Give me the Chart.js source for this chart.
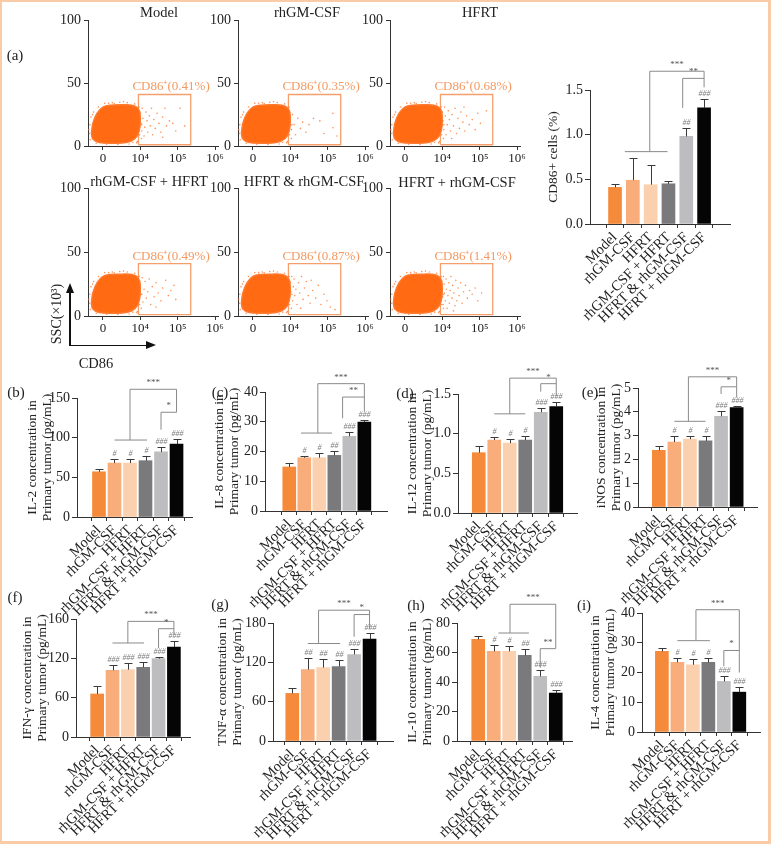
<!DOCTYPE html>
<html>
<head>
<meta charset="utf-8">
<script src="https://cdn.jsdelivr.net/npm/chart.js@4.4.0/dist/chart.umd.min.js"></script>
<style>
  html, body { margin: 0; padding: 0; background: #fff; }
  #fig { position: relative; width: 771px; height: 844px; overflow: hidden; font-family: 'Liberation Serif', serif; color: #222; }
  #fig canvas { position: absolute; }
  #frame { position: absolute; left: 0; top: 0; width: 771px; height: 844px; box-sizing: border-box;
           border-style: solid; border-color: #f9cba6; border-width: 2px 3px 3px 2px; pointer-events: none; }
  .txt { position: absolute; white-space: nowrap; transform: translate(-50%, -50%); line-height: 1; }
  .line { position: absolute; background: #111; }
  .head { position: absolute; width: 0; height: 0; }
</style>
</head>
<body>
<div id="fig">
  <div class="line" style="left:69px; top:292px; width:1.5px; height:54px;"></div>
  <div class="head" style="left:66px; top:283px; border-left:4px solid transparent; border-right:4px solid transparent; border-bottom:10px solid #111;"></div>
  <div class="line" style="left:69px; top:344.5px; width:78px; height:1.5px;"></div>
  <div class="head" style="left:146px; top:341px; border-top:4px solid transparent; border-bottom:4px solid transparent; border-left:10px solid #111;"></div>
  <div id="frame"></div>
</div>
<script>
// groups (same order in every panel)
const groups = ["Model", "rhGM-CSF", "HFRT", "rhGM-CSF + HFRT", "HFRT & rhGM-CSF", "HFRT + rhGM-CSF"];
const barColors = ["#f58a3a", "#f8ad7a", "#fbd0ae", "#7a7a7c", "#bdbdbf", "#050505"];

// flow cytometry panels
const flowTitles = ["Model", "rhGM-CSF", "HFRT", "rhGM-CSF + HFRT", "HFRT & rhGM-CSF", "HFRT + rhGM-CSF"];
const flowPercents = ["0.41%", "0.35%", "0.68%", "0.49%", "0.87%", "1.41%"];
const flowXTicks = [0, 1, 2, 3];
const flowXLabels = ["0", "10⁴", "10⁵", "10⁶"];
const flowYTicks = [0, 50, 100];
// main population outline (decades of CD86, SSC x10^3)
const cloudOutline = [[-0.31, 10], [-0.27, 18], [-0.16, 26], [0.0, 31], [0.2, 32.5], [0.5, 32.8], [0.8, 32.3], [0.96, 29],
  [1.0, 21], [0.97, 12], [0.86, 6], [0.62, 2.7], [0.25, 2.2], [-0.1, 2.8], [-0.27, 5.5], [-0.31, 10]];
const gateBox = [[0.95, 1], [2.35, 1], [2.35, 41], [0.95, 41], [0.95, 1]];
const edgeDots = [[-0.36, 10], [-0.35, 17], [-0.32, 23], [-0.25, 27], [-0.12, 31], [0.05, 34], [0.25, 34.5],
  [0.45, 34.8], [0.65, 34.5], [0.85, 33.5], [0.97, 31], [1.03, 6], [0.92, 3.5], [0.7, 1.6], [0.4, 1.2],
  [0.1, 1.4], [-0.18, 2.2], [-0.34, 5], [0.3, 33.8], [0.9, 2.5], [-0.38, 13], [0.15, 34], [0.55, 35.2],
  [0.99, 27], [1.04, 17], [0.98, 9], [0.8, 3], [-0.28, 25]];
const gateDots = [
  [[1.0, 26], [1.02, 18], [1.04, 12], [1.05, 30], [1.07, 22], [1.1, 8], [1.12, 15], [1.15, 27], [1.18, 20], [1.2, 11],
   [1.24, 24], [1.27, 16], [1.3, 30], [1.33, 9], [1.36, 21], [1.4, 14], [1.45, 26], [1.5, 18], [1.55, 11], [1.6, 23],
   [1.66, 30], [1.7, 16], [1.78, 20], [1.87, 18], [1.95, 12], [2.06, 30], [2.19, 16], [1.6, 7]],
  [[1.0, 20], [1.03, 13], [1.06, 25], [1.1, 17], [1.14, 9], [1.2, 22], [1.27, 14], [1.33, 19], [1.42, 11], [1.5, 17],
   [1.62, 22], [1.79, 20], [1.9, 10], [2.14, 26], [2.14, 14.5], [2.25, 8]],
  [[1.0, 27], [1.02, 20], [1.04, 13], [1.06, 31], [1.08, 24], [1.1, 9], [1.13, 17], [1.16, 28], [1.19, 21], [1.22, 12],
   [1.26, 25], [1.3, 16], [1.34, 30], [1.38, 10], [1.42, 22], [1.46, 14], [1.5, 27], [1.55, 19], [1.6, 12], [1.65, 24],
   [1.72, 17], [1.8, 21], [1.88, 13], [1.95, 26], [2.02, 18], [2.18, 28], [1.25, 6], [1.58, 31]],
  [[1.0, 25], [1.02, 17], [1.05, 30], [1.07, 11], [1.1, 21], [1.13, 27], [1.16, 14], [1.2, 19], [1.24, 29], [1.28, 9],
   [1.32, 23], [1.37, 15], [1.42, 26], [1.48, 18], [1.55, 12], [1.6, 22], [1.68, 28], [1.75, 16], [1.82, 20], [1.9, 24],
   [1.95, 13], [1.42, 7]],
  [[1.0, 26], [1.02, 19], [1.04, 31], [1.06, 12], [1.08, 23], [1.1, 29], [1.12, 16], [1.15, 21], [1.18, 9], [1.22, 26],
   [1.25, 18], [1.3, 31], [1.34, 13], [1.38, 22], [1.43, 27], [1.48, 16], [1.53, 10], [1.6, 20], [1.68, 14], [1.75, 24],
   [1.82, 9], [1.9, 17], [1.98, 12], [2.07, 7], [2.2, 5], [1.28, 6], [1.56, 28]],
  [[0.98, 28], [1.0, 22], [1.01, 15], [1.02, 9], [1.03, 31], [1.05, 25], [1.06, 18], [1.08, 12], [1.1, 29], [1.11, 21],
   [1.13, 6], [1.15, 16], [1.17, 26], [1.19, 10], [1.21, 20], [1.23, 31], [1.26, 14], [1.28, 24], [1.31, 18], [1.34, 8],
   [1.36, 28], [1.39, 12], [1.42, 22], [1.45, 16], [1.49, 26], [1.53, 10], [1.57, 19], [1.62, 24], [1.67, 14], [1.73, 20],
   [1.8, 17], [1.88, 22], [1.95, 12], [2.05, 18], [1.3, 4]]
];

// bar panels: mean and SD
const cd86Mean = [0.41, 0.49, 0.44, 0.45, 0.98, 1.30];
const cd86Sd = [0.04, 0.25, 0.22, 0.03, 0.10, 0.10];
const il2Mean = [57, 68, 68, 71, 82, 92];
const il2Sd = [3, 5, 5, 6, 6, 6];
const il8Mean = [14.8, 17.9, 17.9, 18.7, 25.1, 29.9];
const il8Sd = [1.3, 0.7, 1.6, 1.5, 1.5, 0.7];
const il12Mean = [0.76, 0.92, 0.88, 0.92, 1.27, 1.34];
const il12Sd = [0.09, 0.04, 0.05, 0.05, 0.05, 0.06];
const inosMean = [2.38, 2.73, 2.85, 2.78, 3.81, 4.18];
const inosSd = [0.17, 0.24, 0.12, 0.22, 0.21, 0.08];
const ifnMean = [65.6, 101.7, 102.7, 106.3, 119.5, 137.3];
const ifnSd = [11.7, 7.6, 10.2, 8.1, 2.5, 9.1];
const tnfMean = [72.6, 109, 112, 113.7, 132, 155.3];
const tnfSd = [7.6, 17, 13, 9.7, 9, 10.2];
const il10Mean = [68.9, 60.8, 60.8, 58.1, 43.8, 32.5];
const il10Sd = [2.3, 4.5, 3.8, 4.3, 4.6, 1.9];
const il4Mean = [27.1, 23.4, 22.6, 23.4, 17.0, 13.4];
const il4Sd = [1.3, 1.5, 2.0, 1.5, 1.7, 1.6];

// significance marks vs Model
const marksCd86 = ["", "", "", "", "##", "###"];
const marksIl2 = ["", "#", "#", "#", "###", "###"];
const marksIl8 = ["", "#", "#", "##", "###", "###"];
const marksIl12 = ["", "#", "#", "#", "###", "###"];
const marksInos = ["", "#", "#", "#", "###", "###"];
const marksIfn = ["", "###", "###", "###", "###", "###"];
const marksTnf = ["", "##", "##", "##", "###", "###"];
const marksIl10 = ["", "#", "#", "##", "###", "###"];
const marksIl4 = ["", "#", "#", "#", "###", "###"];

// y ticks
const ticksCd86 = [0, 0.5, 1.0, 1.5];
const ticksIl2 = [0, 50, 100, 150];
const ticksIl8 = [0, 10, 20, 30, 40];
const ticksIl12 = [0, 0.5, 1.0, 1.5];
const ticksInos = [0, 1, 2, 3, 4, 5];
const ticksIfn = [0, 60, 120, 180];
const ticksIfnLabels = ["0", "60", "120", "160"];
const ticksTnf = [0, 60, 120, 180];
const ticksIl10 = [0, 20, 40, 60, 80];
const ticksIl4 = [0, 10, 20, 30, 40];

const AXIS = "#333";
const SIG = "#8a8a8a";
Chart.defaults.font.family = "'Liberation Serif', serif";
const fig = document.getElementById("fig");

function addCanvas(left, top, w, h) {
  const c = document.createElement("canvas");
  c.width = w; c.height = h;
  c.style.left = left + "px"; c.style.top = top + "px";
  c.style.width = w + "px"; c.style.height = h + "px";
  fig.insertBefore(c, document.getElementById("frame"));
  return c;
}

function addText(text, x, y, size, rotate) {
  const d = document.createElement("div");
  d.className = "txt";
  d.textContent = text;
  d.style.left = x + "px"; d.style.top = y + "px"; d.style.fontSize = size + "px";
  if (rotate) d.style.transform = "translate(-50%,-50%) rotate(-90deg)";
  fig.insertBefore(d, document.getElementById("frame"));
}

// ---------- flow plots ----------
const flowAreas = [
  { l: 88, t: 19, r: 218, b: 146 }, { l: 238, t: 19, r: 368, b: 146 }, { l: 390, t: 19, r: 520, b: 146 },
  { l: 88, t: 187, r: 218, b: 316 }, { l: 238, t: 187, r: 368, b: 316 }, { l: 390, t: 187, r: 520, b: 316 }
];
const flowTitlePos = [[159, 12], [307, 12], [480, 12], [149, 181], [304, 181], [457, 182]];

function gateLabel(pct) {
  return {
    id: "gateLabel",
    afterDatasetsDraw(chart) {
      const { ctx, scales: { x, y } } = chart;
      ctx.save();
      ctx.fillStyle = "#f39a62";
      ctx.font = "13px 'Liberation Serif', serif";
      ctx.textAlign = "left";
      ctx.textBaseline = "bottom";
      ctx.fillText("CD86⁺(" + pct + ")", x.getPixelForValue(gateBox[0][0]) - 6, y.getPixelForValue(gateBox[2][1]) - 1);
      ctx.restore();
    }
  };
}

function flowChart(i) {
  const a = flowAreas[i];
  const left = a.l - 36, top = a.t - 10;
  const w = a.r - left + 10, h = a.b - top + 22;
  const pts = arr => arr.map(p => ({ x: p[0], y: p[1] }));
  new Chart(addCanvas(left, top, w, h), {
    type: "scatter",
    data: {
      datasets: [
        { type: "line", data: pts(cloudOutline), fill: "shape", backgroundColor: "#ff6a13", borderColor: "#ff7a2e",
          borderWidth: 1.5, pointRadius: 0, tension: 0.35 },
        { type: "scatter", data: pts(edgeDots.concat(gateDots[i])), pointRadius: 0.8,
          backgroundColor: "rgba(255,110,30,0.75)", borderWidth: 0 },
        { type: "line", data: pts(gateBox), fill: false, borderColor: "#f5a06c", borderWidth: 1.3, pointRadius: 0, tension: 0 }
      ]
    },
    options: {
      responsive: false, animation: false,
      layout: { padding: { left: 0, top: 10, right: 10, bottom: 0 } },
      plugins: { legend: { display: false }, tooltip: { enabled: false } },
      scales: {
        x: { type: "linear", min: -0.4, max: 3.08,
          afterFit: s => { s.height = 22; },
          afterBuildTicks: s => { s.ticks = flowXTicks.map(v => ({ value: v })); },
          ticks: { callback: (v, k) => flowXLabels[k], font: { size: 13 }, color: "#222", padding: 1, maxRotation: 0 },
          grid: { display: true, drawOnChartArea: false, tickLength: 4, color: AXIS }, border: { color: AXIS } },
        y: { min: 0, max: 100,
          afterFit: s => { s.width = 36; },
          afterBuildTicks: s => { s.ticks = flowYTicks.map(v => ({ value: v })); },
          ticks: { font: { size: 14 }, color: "#222", padding: 3 },
          grid: { display: true, drawOnChartArea: false, tickLength: 4, color: AXIS }, border: { color: AXIS } }
      }
    },
    plugins: [gateLabel(flowPercents[i])]
  });
  addText(flowTitles[i], flowTitlePos[i][0], flowTitlePos[i][1], 14.5);
}

// ---------- bar plots ----------
function barMarks(p) {
  return {
    id: "barMarks",
    afterDatasetsDraw(chart) {
      const { ctx, scales: { x, y } } = chart;
      const X = v => x.getPixelForValue(v), Y = v => y.getPixelForValue(v);
      ctx.save();
      ctx.lineWidth = 1;
      p.mean.forEach((m, i) => {
        const px = Math.round(X(i)) + 0.5;
        const y0 = Y(m), y1 = Math.round(Y(m + p.sd[i])) + 0.5;
        ctx.strokeStyle = "#3a3a3a";
        ctx.beginPath();
        ctx.moveTo(px, y0); ctx.lineTo(px, y1);
        ctx.moveTo(px - 4, y1); ctx.lineTo(px + 4, y1);
        ctx.stroke();
        if (p.marks[i]) {
          ctx.fillStyle = "#7a7a7a";
          ctx.font = "italic 8px 'Liberation Serif', serif";
          ctx.textAlign = "center";
          ctx.textBaseline = "bottom";
          ctx.fillText(p.marks[i], px, y1 - 2);
        }
      });
      const s = p.sig;
      ctx.strokeStyle = SIG;
      ctx.beginPath();
      ctx.moveTo(X(s.group[0]), Y(s.group[2])); ctx.lineTo(X(s.group[1]), Y(s.group[2]));
      ctx.moveTo(X(s.mid), Y(s.group[2])); ctx.lineTo(X(s.mid), Y(s.top));
      ctx.lineTo(X(s.right), Y(s.top)); ctx.lineTo(X(s.right), Y(s.rightLow));
      ctx.moveTo(X(s.left2), Y(s.low2)); ctx.lineTo(X(s.left2), Y(s.y2)); ctx.lineTo(X(s.right), Y(s.y2));
      ctx.stroke();
      ctx.fillStyle = "#555";
      ctx.font = "9px 'Liberation Serif', serif";
      ctx.textAlign = "center";
      ctx.textBaseline = "bottom";
      ctx.fillText(s.stars[0], X((s.mid + s.right) / 2), Y(s.top) - 2);
      ctx.fillText(s.stars[1], X((s.left2 + s.right) / 2), Y(s.y2) - 2);
      ctx.restore();
    }
  };
}

function barChart(p) {
  const a = p.area;
  const left = Math.round(p.titleX - 7.5), top = a.t - 50;
  const w = a.r - left + 12, h = a.b - top + 105;
  new Chart(addCanvas(left, top, w, h), {
    type: "bar",
    data: {
      datasets: [{ data: p.mean.map((v, i) => ({ x: i, y: v })), backgroundColor: barColors, barThickness: 13, borderWidth: 0 }]
    },
    options: {
      responsive: false, animation: false,
      layout: { padding: { left: 0, top: 50, right: 12, bottom: 0 } },
      plugins: { legend: { display: false }, tooltip: { enabled: false } },
      scales: {
        x: { type: "linear", min: p.xmin, max: p.xmax,
          afterFit: s => { s.height = 105; },
          afterBuildTicks: s => { s.ticks = groups.map((g, i) => ({ value: i })); },
          ticks: { autoSkip: false, minRotation: 45, maxRotation: 45, padding: 1, font: { size: 14.5 }, color: "#222",
            callback: v => groups[v] || "" },
          grid: { display: true, drawOnChartArea: false, tickLength: 4, color: AXIS }, border: { color: AXIS } },
        y: { min: 0, max: p.ticks[p.ticks.length - 1],
          afterFit: s => { s.width = a.l - left; },
          afterBuildTicks: s => { s.ticks = p.ticks.map(v => ({ value: v })); },
          ticks: { callback: (v, k) => p.labels[k], font: { size: 14 }, color: "#222", padding: 2 },
          grid: { display: true, drawOnChartArea: false, tickLength: 5, color: AXIS }, border: { color: AXIS },
          title: { display: true, text: p.title, font: { size: 13.5, lineHeight: 1.1 }, padding: 0, color: "#222" } }
      }
    },
    plugins: [barMarks(p)]
  });
}

const fmt1 = arr => arr.map(v => v.toFixed(1));
const str = arr => arr.map(String);
const barPanels = [
  { title: "CD86+ cells (%)", mean: cd86Mean, sd: cd86Sd, marks: marksCd86, ticks: ticksCd86, labels: fmt1(ticksCd86),
    titleX: 553, area: { l: 590, t: 90, r: 730, b: 224 }, xmin: -0.75, xmax: 5.8,
    sig: { group: [0.55, 2.95, 0.81], mid: 1.95, top: 1.71, right: 5, rightLow: 1.53, left2: 3.8, y2: 1.63, low2: 1.30, stars: ["***", "**"] } },
  { title: ["IL-2 concentration in", "Primary tumor (pg/mL)"], mean: il2Mean, sd: il2Sd, marks: marksIl2, ticks: ticksIl2, labels: str(ticksIl2),
    titleX: 32, area: { l: 77, t: 398, r: 192, b: 517 }, xmin: -0.8, xmax: 5.38,
    sig: { group: [1, 3.1, 97], mid: 2, top: 161, right: 5, rightLow: 132, left2: 4, y2: 132, low2: 110, stars: ["***", "*"] } },
  { title: ["IL-8 concentration in", "Primary tumor (pg/mL)"], mean: il8Mean, sd: il8Sd, marks: marksIl8, ticks: ticksIl8, labels: str(ticksIl8),
    titleX: 219, area: { l: 265, t: 392, r: 387, b: 511 }, xmin: -0.94, xmax: 5.83,
    sig: { group: [0.78, 2.85, 26.2], mid: 1.9, top: 42.8, right: 5, rightLow: 33.5, left2: 3.55, y2: 38.3, low2: 31.2, stars: ["***", "**"] } },
  { title: ["IL-12 concentration in", "Primary tumor (pg/mL)"], mean: il12Mean, sd: il12Sd, marks: marksIl12, ticks: ticksIl12, labels: fmt1(ticksIl12),
    titleX: 412, area: { l: 458, t: 394, r: 577, b: 513 }, xmin: -0.7, xmax: 5.7,
    sig: { group: [1, 3, 1.25], mid: 2, top: 1.70, right: 5, rightLow: 1.47, left2: 4, y2: 1.63, low2: 1.53, stars: ["***", "*"] } },
  { title: ["iNOS concentration in", "Primary tumor (pg/mL)"], mean: inosMean, sd: inosSd, marks: marksInos, ticks: ticksInos, labels: str(ticksInos),
    titleX: 601, area: { l: 638, t: 388, r: 757, b: 507 }, xmin: -0.7, xmax: 5.67,
    sig: { group: [1, 3, 3.6], mid: 1.9, top: 5.47, right: 5, rightLow: 4.6, left2: 4, y2: 5.05, low2: 4.75, stars: ["***", "*"] } },
  { title: ["IFN-γ concentration in", "Primary tumor (pg/mL)"], mean: ifnMean, sd: ifnSd, marks: marksIfn, ticks: ticksIfn, labels: ticksIfnLabels,
    titleX: 27, area: { l: 76, t: 619, r: 190, b: 737 }, xmin: -0.76, xmax: 5.43,
    sig: { group: [1, 3.05, 143.4], mid: 2, top: 176.4, right: 5, rightLow: 156, left2: 4, y2: 165.2, low2: 135.7, stars: ["***", "*"] } },
  { title: ["TNF-α concentration in", "Primary tumor (pg/mL)"], mean: tnfMean, sd: tnfSd, marks: marksTnf, ticks: ticksTnf, labels: str(ticksTnf),
    titleX: 222, area: { l: 273, t: 623, r: 393, b: 741 }, xmin: -0.6, xmax: 5.87,
    sig: { group: [1, 3.1, 148.7], mid: 1.7, top: 199.5, right: 5, rightLow: 172, left2: 4, y2: 192.9, low2: 159, stars: ["***", "*"] } },
  { title: ["IL-10 concentration in", "Primary tumor (pg/mL)"], mean: il10Mean, sd: il10Sd, marks: marksIl10, ticks: ticksIl10, labels: str(ticksIl10),
    titleX: 412, area: { l: 457, t: 623, r: 572, b: 741 }, xmin: -0.75, xmax: 5.43,
    sig: { group: [1.3, 3.27, 73.2], mid: 2.05, top: 92.7, right: 5, rightLow: 62.6, left2: 4, y2: 62.6, low2: 49.7, stars: ["***", "**"] } },
  { title: ["IL-4 concentration in", "Primary tumor (pg/mL)"], mean: il4Mean, sd: il4Sd, marks: marksIl4, ticks: ticksIl4, labels: str(ticksIl4),
    titleX: 595, area: { l: 642, t: 613, r: 760, b: 732 }, xmin: -0.65, xmax: 5.7,
    sig: { group: [1, 3.1, 30.7], mid: 2.2, top: 41.1, right: 5, rightLow: 20, left2: 4, y2: 27.4, low2: 22.1, stars: ["***", "*"] } }
];

flowAreas.forEach((a, i) => flowChart(i));
barPanels.forEach(barChart);

// panel letters and shared flow axis labels
[["(a)", 15, 55], ["(b)", 16, 392], ["(c)", 220, 392], ["(d)", 405, 393], ["(e)", 590, 392],
 ["(f)", 15, 597], ["(g)", 220, 604], ["(h)", 416, 605], ["(i)", 584, 605]]
  .forEach(t => addText(t[0], t[1], t[2], 15));
addText("SSC(×10³)", 57, 314, 14, true);
addText("CD86", 96, 363, 14.5);
</script>
</body>
</html>
